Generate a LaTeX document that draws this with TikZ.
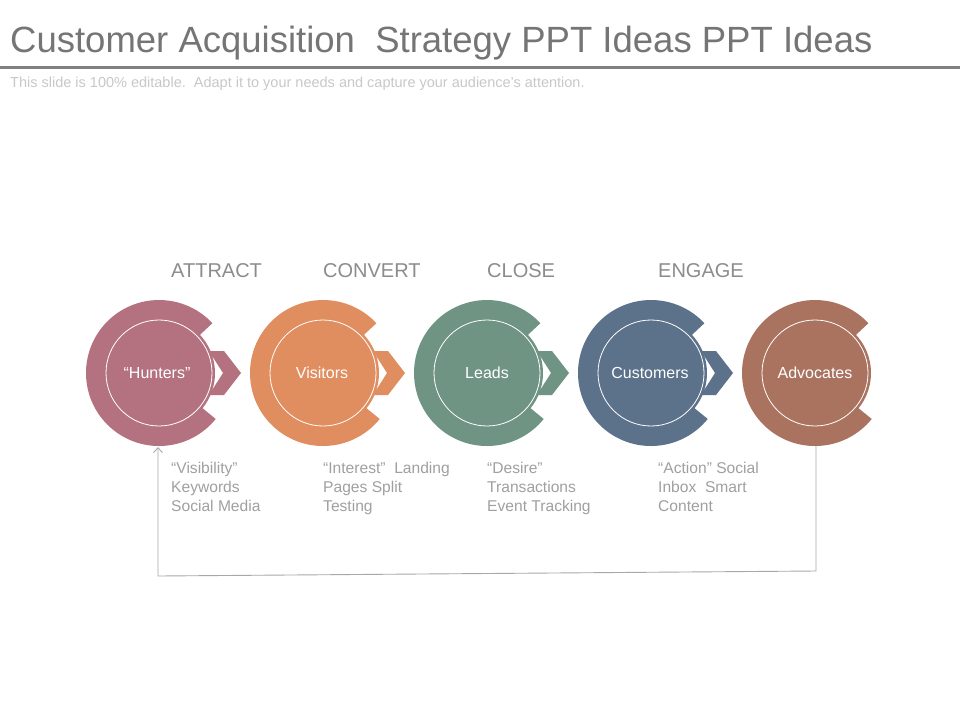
\documentclass[tikz,border=0pt]{standalone}
\usepackage{fontspec}
\setmainfont{Liberation Sans}
\usetikzlibrary{arrows.meta}
\definecolor{chun}{RGB}{180,114,128}
\definecolor{cvis}{RGB}{224,141,95}
\definecolor{clea}{RGB}{111,148,132}
\definecolor{ccus}{RGB}{92,113,138}
\definecolor{cadv}{RGB}{170,115,96}
\definecolor{titlegray}{RGB}{117,117,117}
\definecolor{rulegray}{RGB}{128,128,128}
\definecolor{subgray}{RGB}{200,200,200}
\definecolor{stagegray}{RGB}{140,140,140}
\definecolor{descgray}{RGB}{160,160,160}
\definecolor{loopgray}{RGB}{168,168,168}
\tikzset{
  stagelbl/.style={anchor=base west, inner sep=0, text=stagegray, font=\fontsize{20}{24}\selectfont},
  desclbl/.style={anchor=north west, inner sep=0, align=left, text=descgray, font=\fontsize{15.6}{19}\selectfont},
  circlbl/.style={circle, minimum size=146pt, inner sep=0, text=white, font=\fontsize{16}{19}\selectfont},
  loopline/.style={draw=loopgray, line width=0.9pt},
}
% #1 centre x, #2 colour
\newcommand{\cshape}[2]{%
  \fill[#2, shift={(#1,373)}] (39:73) arc[start angle=39, end angle=317, radius=73]
     -- (317:55) arc[start angle=317, end angle=39, radius=55] -- cycle;
  \fill[#2] (#1,373) circle[radius=56];
  \draw[white, line width=0.8pt] (#1,373) circle[radius=53];
}
\newcommand{\chev}[2]{%
  \fill[#2, shift={(#1,373)}] (50,-22) -- (65,-22) -- (82,0) -- (65,22) -- (50,22) -- (64,0) -- cycle;
}
\begin{document}
\begin{tikzpicture}[x=1pt, y=-1pt]
\useasboundingbox (0,0) rectangle (960,720);
\fill[white] (0,0) rectangle (960,720);
% header
\node[anchor=base west, inner sep=0, text=titlegray, font=\fontsize{36.5}{42}\selectfont] (title) at (10,52) {Customer Acquisition\ \ Strategy PPT Ideas PPT Ideas};
\draw[rulegray, line width=3pt] (0,67.5) -- (960,67.5);
\node[anchor=base west, inner sep=0, text=subgray, font=\fontsize{14.5}{17}\selectfont] (sub) at (10,87) {This slide is 100\% editable.\ \ Adapt it to your needs and capture your audience's attention.};
% shapes
\cshape{159}{chun}\chev{159}{chun}
\cshape{323}{cvis}\chev{323}{cvis}
\cshape{487}{clea}\chev{487}{clea}
\cshape{651}{ccus}\chev{651}{ccus}
\cshape{815}{cadv}
\node[circlbl] (hun) at (157,373) {“Hunters”};
\node[circlbl] (vis) at (322,373) {Visitors};
\node[circlbl] (lea) at (487,373) {Leads};
\node[circlbl] (cus) at (650,373) {Customers};
\node[circlbl] (adv) at (815,373) {Advocates};
% stage labels
\node[stagelbl] (s1) at (171,277) {ATTRACT};
\node[stagelbl] (s2) at (323,277) {CONVERT};
\node[stagelbl] (s3) at (487,277) {CLOSE};
\node[stagelbl] (s4) at (658,277) {ENGAGE};
% descriptions
\node[desclbl] (d1) at (171,461.5) {“Visibility”\\Keywords\\Social Media};
\node[desclbl] (d2) at (323,461.5) {“Interest”\ \ Landing\\Pages Split\\Testing};
\node[desclbl] (d3) at (487,461.5) {“Desire”\\Transactions\\Event Tracking};
\node[desclbl] (d4) at (658,461.5) {“Action” Social\\Inbox\ \ Smart\\Content};
% feedback loop
\coordinate (p1) at (816,571);
\coordinate (p2) at (158,576);
\coordinate (p3) at (158,447);
\draw[loopline, -{Straight Barb[length=5pt, width=9pt]}] (adv.south -| p1) -- (p1) -- (p2) -- (p3);
\end{tikzpicture}
\end{document}
